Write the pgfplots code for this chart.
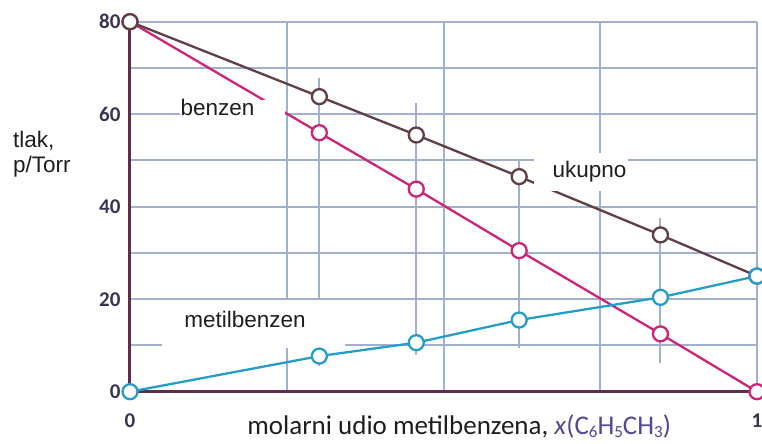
\documentclass[border=0pt]{standalone}
\usepackage{pgfplots}
\pgfplotsset{compat=1.18}
\usepackage{fontspec}
\setmainfont{Liberation Sans}
\newfontfamily\calibri{Carlito}
\usetikzlibrary{calc}
\definecolor{gridc}{RGB}{160,176,205}
\definecolor{axc}{RGB}{95,45,75}
\definecolor{totc}{RGB}{95,62,68}
\definecolor{benc}{RGB}{206,36,120}
\definecolor{metc}{RGB}{36,158,200}
\definecolor{tickc}{RGB}{58,52,82}
\definecolor{xc}{RGB}{85,70,150}
\definecolor{txt}{RGB}{30,30,30}

\begin{document}
\begin{tikzpicture}
\begin{axis}[
  scale only axis, width=627bp, height=370bp,
  xmin=0, xmax=1, ymin=0, ymax=80,
  axis x line=bottom, axis y line=left,
  axis line style={-, draw=axc, line width=3bp},
  xtick={0,0.25,0.5,0.75,1}, xticklabels={0,,,,1},
  ytick={0,10,20,30,40,50,60,70,80}, yticklabels={0,,20,,40,,60,,80},
  major tick length=0pt,
  grid=major, grid style={draw=gridc, line width=2bp},
  /pgf/number format/assume math mode=true,
  ticklabel style={font=\calibri\bfseries\fontsize{21bp}{25bp}\selectfont, text=tickc},
  yticklabel style={xshift=-6bp},
  xticklabel style={yshift=-19bp},
  clip=false,
]
% short vertical lines through the measured compositions
\addplot[draw=gridc, line width=2bp, forget plot] coordinates {(0.302,67.8) (0.302,5.5)};
\addplot[draw=gridc, line width=2bp, forget plot] coordinates {(0.4566,62.4) (0.4566,8)};
\addplot[draw=gridc, line width=2bp, forget plot] coordinates {(0.6207,50.1) (0.6207,9.4)};
\addplot[draw=gridc, line width=2bp, forget plot] coordinates {(0.846,37.6) (0.846,6.2)};

% benzen
\addplot[benc, line width=2.3bp, mark=*, mark size=7.5bp, mark options={fill=white, draw=benc, line width=2.3bp}]
  coordinates {(0,80) (0.302,56.0) (0.4566,43.8) (0.6207,30.5) (0.846,12.5) (1,0)};
% ukupno
\addplot[totc, line width=2.3bp, mark=*, mark size=7.5bp, mark options={fill=white, draw=totc, line width=2.3bp}]
  coordinates {(0,80) (0.302,63.8) (0.4566,55.5) (0.6207,46.5) (0.846,33.9) (1,25)};
% metilbenzen
\addplot[metc, line width=2.3bp, mark=*, mark size=7.5bp, mark options={fill=white, draw=metc, line width=2.3bp}]
  coordinates {(0,0) (0.302,7.7) (0.4566,10.6) (0.6207,15.5) (0.846,20.4) (1,25)};

% white label backgrounds
\fill[white] (axis cs:0.08,57.1) rectangle (axis cs:0.247,63.1);
\fill[white] (axis cs:0.645,43.3) rectangle (axis cs:0.794,51.7);
\fill[white] (axis cs:0.051,9.5) rectangle (axis cs:0.343,19.8);

\node[anchor=base, text=txt, inner sep=0pt, font=\fontsize{22.5bp}{27bp}\selectfont] at (axis cs:0.1396,59.8) {benzen};
\node[anchor=base, text=txt, inner sep=0pt, font=\fontsize{22.5bp}{27bp}\selectfont] at (axis cs:0.733,46.3) {ukupno};
\node[anchor=base, text=txt, inner sep=0pt, font=\fontsize{22.5bp}{27bp}\selectfont] at (axis cs:0.1834,13.8) {metilbenzen};

\node[anchor=base west, text=txt, inner sep=0pt, font=\fontsize{22.5bp}{27bp}\selectfont] at (axis cs:-0.1866,52.9) {tlak,};
\node[anchor=base west, text=txt, inner sep=0pt, font=\fontsize{22.5bp}{27bp}\selectfont] at (axis cs:-0.1866,47.5) {p/Torr};

\node[anchor=base, text=txt, inner sep=0pt, font=\calibri\fontsize{27bp}{32bp}\selectfont] at (axis cs:0.525,-9.2)
  {molarni udio metilbenzena, \textcolor{xc}{\textit{x}(C{\fontsize{17bp}{20bp}\selectfont\raisebox{-3bp}{6}}H{\fontsize{17bp}{20bp}\selectfont\raisebox{-3bp}{5}}CH{\fontsize{17bp}{20bp}\selectfont\raisebox{-3bp}{3}})}};
\end{axis}
\pgfresetboundingbox
\path ($(current axis.south west)+(-130bp,-52.3bp)$) rectangle ($(current axis.north east)+(5bp,21.7bp)$);
\end{tikzpicture}
\end{document}
